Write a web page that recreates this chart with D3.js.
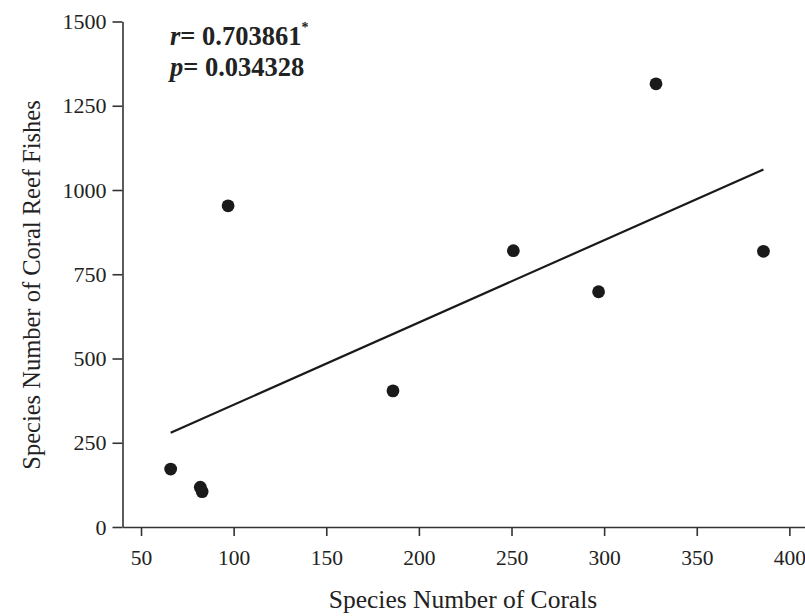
<!DOCTYPE html>
<html>
<head>
<meta charset="utf-8">
<script src="https://cdn.jsdelivr.net/npm/d3@7"></script>
<style>
  html, body { margin: 0; padding: 0; background: #fff; }
  svg { display: block; }
  text { font-family: "Liberation Serif", "Times New Roman", serif; fill: #222; }
</style>
</head>
<body>
<svg id="chart" width="805" height="616"></svg>
<script>
// Data
const coralSpecies = [66, 82, 83, 97, 186, 251, 297, 328, 386];
const fishSpecies  = [172, 118, 105, 953, 404, 820, 698, 1315, 818];
const xTicks = [50, 100, 150, 200, 250, 300, 350, 400];
const yTicks = [0, 250, 500, 750, 1000, 1250, 1500];
const xTitle = "Species Number of Corals";
const yTitle = "Species Number of Coral Reef Fishes";
const rText = "0.703861";
const pText = "0.034328";

const svg = d3.select("#chart");
const axisColor = "#333";

const x = d3.scaleLinear().domain([40, 410]).range([122.5, 807.9]);
const y = d3.scaleLinear().domain([0, 1500]).range([527, 21.5]);

// Y axis
const gy = svg.append("g").attr("transform", `translate(${x(40)},0)`)
  .call(d3.axisLeft(y).tickValues(yTicks).tickSize(10).tickSizeOuter(0).tickPadding(6).tickFormat(d3.format("d")));
gy.select(".domain").attr("stroke", axisColor).attr("stroke-width", 1.6);
gy.selectAll(".tick line").attr("stroke", axisColor).attr("stroke-width", 1.6);
gy.selectAll(".tick text").attr("font-size", 22).attr("font-family", "Liberation Serif").attr("fill", "#222");

// X axis
const gx = svg.append("g").attr("transform", `translate(0,${y(0)})`)
  .call(d3.axisBottom(x).tickValues(xTicks).tickSize(9).tickSizeOuter(0).tickPadding(14).tickFormat(d3.format("d")));
gx.select(".domain").attr("stroke", axisColor).attr("stroke-width", 1.6);
gx.selectAll(".tick line").attr("stroke", axisColor).attr("stroke-width", 1.6);
gx.selectAll(".tick text").attr("font-size", 21.5).attr("font-family", "Liberation Serif").attr("fill", "#222");

// Regression line (least squares from the data)
const pts = coralSpecies.map((c, i) => ({ x: c, y: fishSpecies[i] }));
const mx = d3.mean(pts, d => d.x), my = d3.mean(pts, d => d.y);
const sxy = d3.sum(pts, d => (d.x - mx) * (d.y - my));
const sxx = d3.sum(pts, d => (d.x - mx) ** 2);
const slope = sxy / sxx, intercept = my - slope * mx;
const [xmin, xmax] = d3.extent(coralSpecies);
svg.append("line")
  .attr("x1", x(xmin)).attr("y1", y(intercept + slope * xmin))
  .attr("x2", x(xmax)).attr("y2", y(intercept + slope * xmax))
  .attr("stroke", "#1a1a1a").attr("stroke-width", 2.2);

// Points
svg.append("g").selectAll("circle").data(pts).join("circle")
  .attr("cx", d => x(d.x)).attr("cy", d => y(d.y)).attr("r", 6.4)
  .attr("fill", "#1a1a1a");

// Axis titles
svg.append("text").attr("x", 463).attr("y", 608).attr("text-anchor", "middle")
  .attr("font-size", 25.5).text(xTitle);
svg.append("text").attr("transform", "translate(40,285) rotate(-90)").attr("text-anchor", "middle")
  .attr("font-size", 24.5).text(yTitle);

// Annotation
const t1 = svg.append("text").attr("x", 170).attr("y", 45).attr("font-size", 26.5).attr("font-weight", "bold");
t1.append("tspan").attr("font-style", "italic").text("r");
t1.append("tspan").text("= " + rText);
t1.append("tspan").attr("font-size", 14).attr("dy", -13).text("*");
const t2 = svg.append("text").attr("x", 170).attr("y", 76).attr("font-size", 26.5).attr("font-weight", "bold");
t2.append("tspan").attr("font-style", "italic").text("p");
t2.append("tspan").text("= " + pText);
</script>
</body>
</html>
